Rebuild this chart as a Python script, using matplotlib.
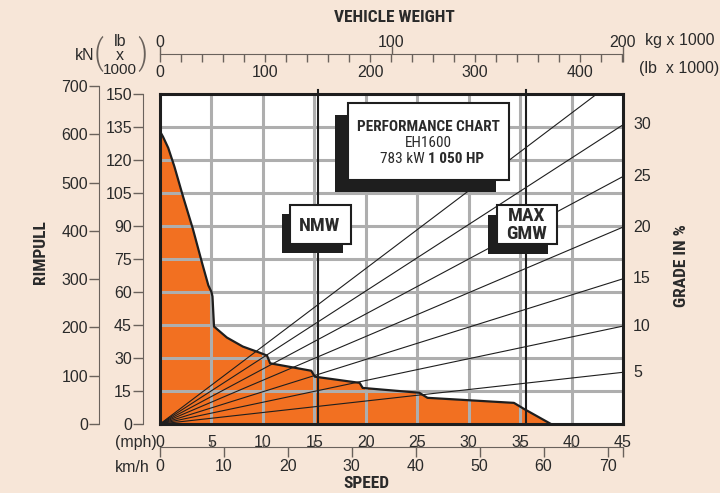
import matplotlib
matplotlib.use('Agg')
import matplotlib.pyplot as plt
import matplotlib.transforms as mtransforms
from matplotlib import font_manager
from matplotlib.patches import Rectangle

# ---------------------------------------------------------
# Data
# ---------------------------------------------------------
speed_mph = [0, 0.3, 0.8, 1.4, 2.2, 3.2, 4.1, 4.7, 5.0, 5.1, 5.25, 6.5, 8.05, 9.7,
             10.4, 10.7, 14.7, 15.05, 19.4, 19.7, 25.2, 26.0, 34.4, 35.4, 38.0]
rimpull_klb = [133, 130.5, 125.5, 117, 104, 88.6, 73, 63, 60, 58, 44.3, 39.3, 35.2,
               32.4, 31.1, 27.6, 24.2, 21.5, 18.7, 16.4, 14.2, 11.9, 9.6, 6.8, 0]

grades = [5, 10, 15, 20, 25, 30, 35]
grade_rimpull_klb = [23.5, 44.5, 66, 89.5, 112.5, 136, 159]  # at 200 t

nmw_t = 68.3
gmw_t = 158.0

mph_ticks = [0, 5, 10, 15, 20, 25, 30, 35, 40, 45]
kmh_ticks = [0, 10, 20, 30, 40, 50, 60, 70]
klb_ticks = [0, 15, 30, 45, 60, 75, 90, 105, 120, 135, 150]
kn_ticks = [0, 100, 200, 300, 400, 500, 600, 700]
kg_ticks = [0, 100, 200]
lb_ticks = [0, 100, 200, 300, 400]
lb_minor = list(range(0, 441, 20))

BG = '#F7E6D8'
ORANGE = '#F27021'
GRID = '#AEAEAE'
DARK = '#1E1E1E'
AXC = '#6A625C'
TXT = '#2A2A2A'

names = {f.name for f in font_manager.fontManager.ttflist}
NARROW = 'Liberation Sans'
for cand in ['Liberation Sans Narrow', 'Roboto Condensed', 'Archivo Narrow',
             'PT Sans Narrow', 'Arimo', 'Liberation Sans']:
    if cand in names:
        NARROW = cand
        break
is_narrow = NARROW not in ('Liberation Sans', 'Arimo')
S_TITLE = 12.5 if is_narrow else 11
S_BOX = 11 if is_narrow else 9.3
S_TAG = 14 if is_narrow else 12.5

plt.rcParams['font.family'] = ['Liberation Sans', 'DejaVu Sans']

W, H = 720, 493


def rect(x0, y0, x1, y1):
    return [x0 / W, 1 - y1 / H, (x1 - x0) / W, (y1 - y0) / H]


def fx(x):
    return x / W


def fy(y):
    return 1 - y / H


fig = plt.figure(figsize=(7.2, 4.93), dpi=100, facecolor=BG)

# main plot area (speed vs rimpull)
ax = fig.add_axes(rect(160, 94, 623, 424))
ax.set_facecolor('white')
ax.set_xlim(0, 45)
ax.set_ylim(0, 150)
for x in mph_ticks[1:-1]:
    ax.axvline(x, color=GRID, lw=2.2, zorder=2)
for y in klb_ticks[1:-1]:
    ax.axhline(y, color=GRID, lw=2.2, zorder=2)
ax.fill_between(speed_mph, rimpull_klb, color=ORANGE, lw=0, zorder=1)
ax.plot(speed_mph, rimpull_klb, color=DARK, lw=1.6, zorder=4, solid_joinstyle='round')

ax.set_xticks(mph_ticks)
ax.set_xticklabels([str(v) for v in mph_ticks])
ax.set_yticks([])
ax.tick_params(axis='x', length=0, pad=8, labelsize=11.5, labelcolor=TXT)
for s in ax.spines.values():
    s.set_color(DARK)
    s.set_linewidth(2.2)
ax.text(-0.008, -0.055, '(mph)', transform=ax.transAxes, ha='right', va='center',
        fontsize=11.5, color=TXT)

# weight overlay for grade lines and NMW / GMW
axw = ax.twiny()
axw.set_xlim(0, 200)
axw.axis('off')
for r in grade_rimpull_klb:
    axw.plot([0, 200], [0, r], color=DARK, lw=0.8, zorder=3)
for wt in (nmw_t, gmw_t):
    axw.plot([wt, wt], [0, 151.8], color=DARK, lw=1.5, clip_on=False, zorder=3)

blend = mtransforms.blended_transform_factory(ax.transAxes, ax.transData)
for g, r in zip(grades[:-1], grade_rimpull_klb[:-1]):
    ax.text(1.022, r, str(g), transform=blend, ha='left', va='center',
            fontsize=11.5, color=TXT)


def side_axis(x0, y0, y1, top, ticks):
    a = fig.add_axes(rect(x0, y0, x0 + 1, y1))
    a.set_ylim(0, top)
    a.patch.set_visible(False)
    for k in ('top', 'right', 'bottom'):
        a.spines[k].set_visible(False)
    a.spines['left'].set_color(AXC)
    a.set_xticks([])
    a.set_yticks(ticks)
    a.tick_params(axis='y', length=7, width=1, color=AXC, pad=1, labelsize=11.5,
                  labelcolor=TXT)
    return a


# left klb and kN axes
side_axis(143, 94, 424, 150, klb_ticks)
side_axis(99, 86, 424, 700, kn_ticks)

# bottom speed scale (mph ticks up, km/h ticks down)
axs = fig.add_axes(rect(160, 446, 623, 446.5))
axs.set_xlim(0, 45)
axs.patch.set_visible(False)
for k in ('top', 'right', 'left'):
    axs.spines[k].set_visible(False)
axs.spines['bottom'].set_color(AXC)
axs.set_yticks([])
axs.set_xticks([k / 1.609344 for k in kmh_ticks] + [45])
axs.set_xticklabels([str(k) for k in kmh_ticks] + [''])
axs.set_xticks(mph_ticks, minor=True)
axs.tick_params(axis='x', which='major', direction='out', length=7, width=1,
                color=AXC, pad=2, labelsize=11.5, labelcolor=TXT)
axs.tick_params(axis='x', which='minor', direction='in', length=5, width=1, color=AXC)

# top weight scale (kg up, lb down)
axkg = fig.add_axes(rect(160, 53, 623, 53.5))
axkg.set_xlim(0, 200)
axkg.patch.set_visible(False)
for k in ('top', 'right', 'left'):
    axkg.spines[k].set_visible(False)
axkg.spines['bottom'].set_color(AXC)
axkg.set_yticks([])
axkg.set_xticks(kg_ticks)
axkg.set_xticklabels([str(v) for v in kg_ticks])
axkg.tick_params(axis='x', direction='in', length=6, width=1, color=AXC,
                 bottom=True, labelbottom=False, top=False, labeltop=True,
                 pad=2, labelsize=11.5, labelcolor=TXT)

axlb = fig.add_axes(rect(160, 53, 623, 53.5))
axlb.set_xlim(0, 200 * 2.20462)
for k in ('top', 'right', 'left', 'bottom'):
    axlb.spines[k].set_visible(False)
axlb.patch.set_visible(False)
axlb.set_yticks([])
axlb.set_xticks(lb_ticks)
axlb.set_xticklabels([str(v) for v in lb_ticks])
axlb.set_xticks(lb_minor + [200 * 2.20462], minor=True)
axlb.tick_params(axis='x', which='both', direction='out', length=6, width=1,
                 color=AXC, pad=2, labelsize=11.5, labelcolor=TXT)


def ftext(x, y, s, **kw):
    kw.setdefault('fontsize', 11.5)
    kw.setdefault('color', TXT)
    kw.setdefault('ha', 'center')
    kw.setdefault('va', 'center')
    fig.text(fx(x), fy(y), s, **kw)


ftext(150, 467, 'km/h', ha='right')
ftext(645, 40, 'kg x 1000', ha='left')
ftext(639, 68, '(lb  x 1000)', ha='left')
ftext(85, 55, 'kN')
ftext(120, 42, 'lb')
ftext(120, 56, 'x')
ftext(120, 70, '1000', fontsize=11)
ftext(99, 54, '(', fontsize=25, family=NARROW, fontweight='light', color=AXC)
ftext(142, 54, ')', fontsize=25, family=NARROW, fontweight='light', color=AXC)

ftext(394, 18, 'VEHICLE WEIGHT', family=NARROW, fontweight='bold', fontsize=S_TITLE)
ftext(366, 483, 'SPEED', family=NARROW, fontweight='bold', fontsize=S_TITLE)
ftext(40, 252, 'RIMPULL', family=NARROW, fontweight='bold', fontsize=S_TITLE, rotation=90)
ftext(682, 266, 'GRADE IN %', family=NARROW, fontweight='bold', fontsize=S_TITLE,
      rotation=90)


def box(x0, y0, x1, y1, dx, dy):
    fig.patches.append(Rectangle((fx(x0 + dx), fy(y1 + dy)), fx(x1 - x0), (y1 - y0) / H,
                                 transform=fig.transFigure, facecolor=DARK,
                                 edgecolor=DARK, lw=0, zorder=5))
    fig.patches.append(Rectangle((fx(x0), fy(y1)), fx(x1 - x0), (y1 - y0) / H,
                                 transform=fig.transFigure, facecolor='white',
                                 edgecolor=DARK, lw=1.5, zorder=6))


box(348, 103, 509, 180, -13, 12)
box(290, 205, 351, 244, -8, 9)
box(497, 205, 557, 244, -9, 10)

ftext(428, 127, 'PERFORMANCE CHART', family=NARROW, fontweight='bold', fontsize=S_BOX, zorder=7)
ftext(428, 143, 'EH1600', family=NARROW, fontsize=S_BOX, zorder=7)
ftext(425, 159, '783 kW', family=NARROW, fontsize=S_BOX, ha='right', zorder=7)
ftext(428, 159, '1 050 HP', family=NARROW, fontweight='bold', fontsize=S_BOX, ha='left', zorder=7)
ftext(320, 226, 'NMW', family=NARROW, fontweight='bold', fontsize=S_TAG, zorder=7)
ftext(527, 216, 'MAX', family=NARROW, fontweight='bold', fontsize=S_TAG, zorder=7)
ftext(527, 234, 'GMW', family=NARROW, fontweight='bold', fontsize=S_TAG, zorder=7)

fig.savefig('out.png', dpi=100, facecolor=fig.get_facecolor())
